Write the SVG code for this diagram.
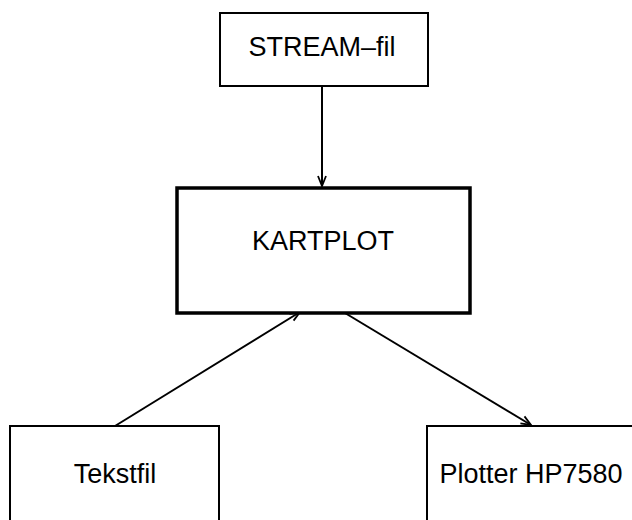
<svg xmlns="http://www.w3.org/2000/svg" width="632" height="520" viewBox="0 0 632 520">
<defs>
<marker id="arr" viewBox="0 0 12 12" refX="11" refY="6" markerWidth="12" markerHeight="12" markerUnits="userSpaceOnUse" orient="auto">
<path d="M1,2 L11,6 L1,10" fill="none" stroke="#000" stroke-width="1.8"/>
</marker>
<style>
.box{fill:#fff;stroke:#000;stroke-width:2}
.thick{stroke-width:3.5}
.lbl{font-family:"Liberation Sans",Arial,sans-serif;font-size:27px;fill:#000;text-anchor:middle}
.con{stroke:#000;stroke-width:2;fill:none}
</style>
</defs>
<rect width="632" height="520" fill="#fff"/>
<g id="connectors">
<line class="con" x1="322" y1="86" x2="322" y2="186" marker-end="url(#arr)"/>
<line class="con" x1="115" y1="426" x2="300" y2="312" marker-end="url(#arr)"/>
<line class="con" x1="345" y1="313" x2="531" y2="425" marker-end="url(#arr)"/>
</g>
<g id="stream">
<rect class="box" x="220" y="13" width="208" height="73"/>
<text class="lbl" x="322" y="56">STREAM–fil</text>
</g>
<g id="kartplot">
<rect class="box thick" x="177" y="188" width="293" height="125"/>
<text class="lbl" x="323" y="250">KARTPLOT</text>
</g>
<g id="tekstfil">
<rect class="box" x="10" y="426" width="209" height="100"/>
<text class="lbl" x="115" y="483">Tekstfil</text>
</g>
<g id="plotter">
<rect class="box" x="427" y="426" width="220" height="100"/>
<text class="lbl" x="531" y="483">Plotter HP7580</text>
</g>
</svg>
